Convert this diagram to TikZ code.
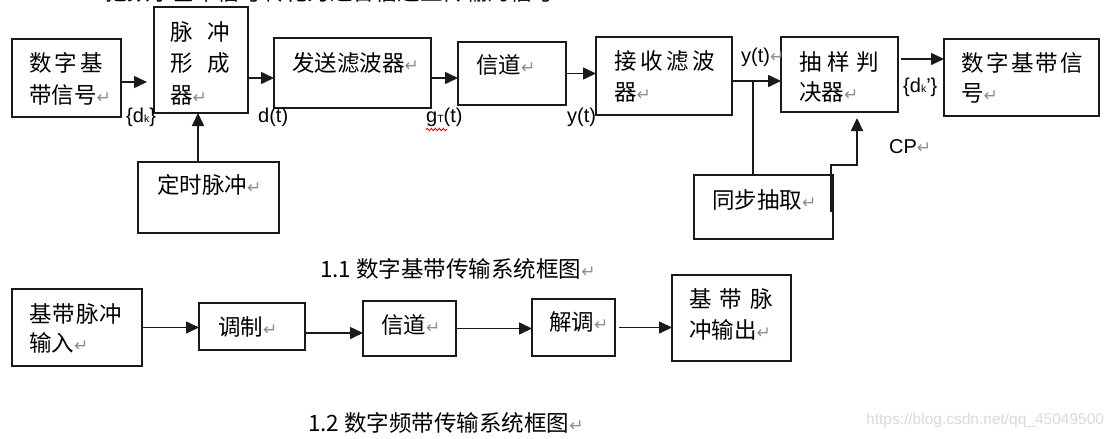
\documentclass[tikz,border=0pt]{standalone}
\usepackage{fontspec}
\setmainfont{Liberation Sans}
\newfontfamily\cjk{Noto Sans CJK SC}
\newfontfamily\dejavu{DejaVu Sans}
\usetikzlibrary{arrows.meta,fit,decorations.pathmorphing}
\definecolor{linec}{HTML}{1A1A1A}
\definecolor{retc}{HTML}{8E8E8E}
\definecolor{wmc}{HTML}{DADADA}
\newcommand\ret{{\color{retc}\dejavu\fontsize{17}{17}\selectfont ↵}}
\newcommand\subk{{\fontsize{10.5}{10.5}\selectfont k}}
\tikzset{
  box/.style={draw=linec, line width=1.8pt, inner sep=0pt, outer sep=0pt},
  zh/.style={anchor=west, inner sep=0pt, font=\cjk\fontsize{22.5}{27}\selectfont},
  lat/.style={anchor=west, inner sep=0pt, font=\fontsize{20}{23}\selectfont},
  arr/.style={draw=linec, line width=1.6pt, -{Triangle[length=13pt,width=12pt]}},
  ln/.style={draw=linec, line width=1.6pt},
}
\begin{document}
\begin{tikzpicture}[x=1pt,y=-1pt]
\path[use as bounding box, clip] (0,0) rectangle (1119,439);
\fill[white] (0,0) rectangle (1119,439);

% line of text cut off by the top edge, as in the reference
\node[zh] (top) at (105,-8.5) {把数字基带信号转化为适合信道上传输的信号};

% ---- 1.1 boxes ----
\node[box, fit={(12,39) (121,117)}] (b1) {};
\node[box, fit={(154,7) (248,113)}] (b2) {};
\node[box, fit={(138,162) (279,233)}] (b3) {};
\node[box, fit={(274,38) (431,108)}] (b4) {};
\node[box, fit={(458,42) (566,105)}] (b5) {};
\node[box, fit={(596,37) (732,115)}] (b6) {};
\node[box, fit={(781,37) (898,112)}] (b7) {};
\node[box, fit={(694,175) (833,239)}] (b8) {};
\node[box, fit={(944,39) (1099,116)}] (b9) {};

\node[zh] (t1a) at (29,63) {数\hspace{3pt}字\hspace{3pt}基};
\node[zh] (t1b) at (29,95) {带信号\ret};
\node[zh] (t2a) at (170,32) {脉\hspace{15pt}冲};
\node[zh] (t2b) at (170,63) {形\hspace{15pt}成};
\node[zh] (t2c) at (170,95) {器\ret};
\node[zh] (t3) at (157,185) {定时脉冲\ret};
\node[zh] (t4) at (292,63) {发送滤波器\ret};
\node[zh] (t5) at (476,65) {信道\ret};
\node[zh] (t6a) at (614,61) {接\hspace{3.7pt}收\hspace{3.7pt}滤\hspace{3.7pt}波};
\node[zh] (t6b) at (614,92) {器\ret};
\node[zh] (t7a) at (799,62) {抽\hspace{6pt}样\hspace{6pt}判};
\node[zh] (t7b) at (799,92) {决器\ret};
\node[zh] (t8) at (712,200) {同步抽取\ret};
\node[zh] (t9a) at (961,63) {数\hspace{2.4pt}字\hspace{2.4pt}基\hspace{2.4pt}带\hspace{2.4pt}信};
\node[zh] (t9b) at (961,93) {号\ret};

% ---- 1.1 labels ----
\node[lat] (ldk) at (126,117) {\{d\subk\}};
\node[lat] (ldt) at (258,117) {d(t)};
\node[lat] (lgt) at (426,117) {g{\fontsize{10.5}{10.5}\selectfont T}(t)};
\node[lat] (ly1) at (567,117) {y(t)};
\node[lat] (ly2) at (741,57) {y(t)\ret};
\node[lat] (ldk2) at (903,87) {\{d\subk'\}};
\node[lat] (lcp) at (889,147) {CP\ret};
\draw[red!80!black, line width=0.8pt, decorate, decoration={snake, amplitude=1.2pt, segment length=4pt}]
  ([yshift=-3pt]lgt.south west) -- ++(21,0);

% ---- 1.1 connectors ----
\draw[arr, shorten >=7pt] ([yshift=-4pt]b1.east) -- ([yshift=-4pt]b1.east -| b2.west);
\draw[arr] ([xshift=-10.5pt]b3.north) -- ([xshift=-10.5pt]b3.north |- b2.south);
\draw[arr] ([yshift=-18pt]b2.east) -- ([yshift=-18pt]b2.east -| b4.west);
\draw[arr] ([yshift=-5pt]b4.east) -- ([yshift=-5pt]b4.east -| b5.west);
\draw[arr] (b5.east) -- (b5.east -| b6.west);
\coordinate (j0) at ([yshift=-5pt]b6.east);
\draw[arr] (j0) -- (j0 -| b7.west);
\draw[ln] ([xshift=-10.5pt]b8.north) -- ([xshift=-10.5pt]b8.north |- j0);
\draw[arr, line width=1.8pt, shorten >=6pt] ([xshift=-2pt,yshift=-5pt]b8.east) -- ++(0,-47) -| ([xshift=17.5pt]b7.south);
\draw[arr, shorten <=3pt] ([yshift=15.5pt]b7.east) -- ([yshift=15.5pt]b7.east -| b9.west);

\node[zh] (cap1) at (320,269) {1.1 数字基带传输系统框图\ret};

% ---- 1.2 boxes ----
\node[box, fit={(12,289) (142,366)}] (c1) {};
\node[box, fit={(199,303) (305,350)}] (c2) {};
\node[box, fit={(363,301) (456,356)}] (c3) {};
\node[box, fit={(532,299) (615,356)}] (c4) {};
\node[box, fit={(672,275) (791,361)}] (c5) {};

\node[zh] (s1a) at (29,314) {基\hspace{1pt}带\hspace{1pt}脉\hspace{1pt}冲};
\node[zh] (s1b) at (29,343) {输入\ret};
\node[zh] (s2) at (218,327) {调制\ret};
\node[zh] (s3) at (381,325) {信道\ret};
\node[zh] (s4) at (549,322) {解调\ret};
\node[zh] (s5a) at (689,299) {基\hspace{8pt}带\hspace{8pt}脉};
\node[zh] (s5b) at (689,330) {冲输出\ret};

\draw[arr] (c1.east) -- (c1.east -| c2.west);
\draw[arr] ([yshift=-6.5pt]c2.east) -- ([yshift=-6.5pt]c2.east -| c3.west);
\draw[arr] (c3.east) -- (c3.east -| c4.west);
\draw[arr, shorten <=4pt] (c4.east) -- (c4.east -| c5.west);

\node[zh] (cap2) at (308,423) {1.2 数字频带传输系统框图\ret};

\node[anchor=west, inner sep=0pt, text=wmc, font=\fontsize{15.5}{18}\selectfont] (wm) at (866,420) {https://blog.csdn.net/qq\_45049500};
\end{tikzpicture}
\end{document}
